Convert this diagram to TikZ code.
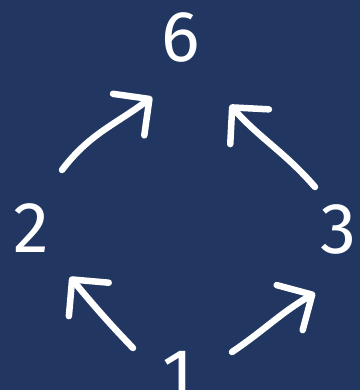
\documentclass[tikz,border=0pt]{standalone}
\usepackage{fontspec}
\setmainfont{Fira Sans}
\usetikzlibrary{arrows.meta}
\definecolor{bgnavy}{RGB}{33,55,98}

\begin{document}
\begin{tikzpicture}[x=1pt, y=1pt, line cap=round, line join=round,
  digit/.style={text=white, inner sep=0pt, font=\fontsize{72}{72}\selectfont},
  hand/.style={white, line width=6.5pt, -{Straight Barb[length=26pt,width=52pt,round]}}]
% fond bleu nuit
\clip (0,0) rectangle (360,390);
\fill[bgnavy] (0,0) rectangle (360,390);
% diviseurs de 6
\node[digit] (d6) at (181,353) {6};
\node[digit] (d2) at (31,162) {2};
\node[digit] (d3) at (338,161) {3};
\node[digit] (d1) at (178,15) {1};
% extremites des fleches
\coordinate (s12) at (133,42);  \coordinate (t12) at (70,113);
\coordinate (s13) at (232,38);  \coordinate (t13) at (315,97);
\coordinate (s26) at (62,220);  \coordinate (t26) at (152,293);
\coordinate (s36) at (315,203); \coordinate (t36) at (230,285);
% fleches de divisibilite
\draw[hand] (s12) to[out=134, in=-50] (t12);
\draw[hand] (s13) to[out=34, in=210] (t13);
\draw[hand] (s26) to[out=53, in=217] (t26);
\draw[hand] (s36) to[out=131, in=-48] (t36);
\end{tikzpicture}
\end{document}
